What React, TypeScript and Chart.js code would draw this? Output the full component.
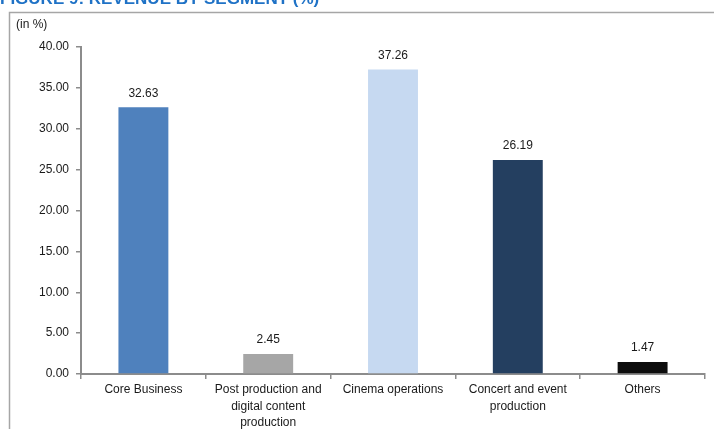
import React, { useEffect, useRef } from "react";
import { Chart, registerables } from "chart.js";

Chart.register(...registerables);

const categories: (string | string[])[] = [
  "Core Business",
  ["Post production and", "digital content", "production"],
  "Cinema operations",
  ["Concert and event", "production"],
  "Others",
];
const values: number[] = [32.63, 2.45, 37.26, 26.19, 1.47];
const barColors: string[] = ["#4f81bd", "#a6a6a6", "#c6d9f1", "#243f60", "#0d0d0d"];
const yTicks: number[] = [0, 5, 10, 15, 20, 25, 30, 35, 40];
const titleText = "FIGURE 9: REVENUE BY SEGMENT (%)";
const unitText = "(in %)";

const FONT = "'Liberation Sans', Arial, sans-serif";

const decorPlugin = {
  id: "decor",
  beforeDraw(chart: any) {
    const ctx = chart.ctx;
    ctx.save();
    ctx.fillStyle = "#ffffff";
    ctx.fillRect(0, 0, chart.width, chart.height);
    // title (cut off at top)
    ctx.fillStyle = "#1f72c6";
    ctx.font = `bold 17px ${FONT}`;
    ctx.textBaseline = "alphabetic";
    ctx.textAlign = "left";
    ctx.fillText(titleText, 0, 4);
    // frame
    ctx.strokeStyle = "#a6a6a6";
    ctx.lineWidth = 1.5;
    ctx.beginPath();
    ctx.moveTo(9.5, chart.height);
    ctx.lineTo(9.5, 12.5);
    ctx.lineTo(chart.width, 12.5);
    ctx.stroke();
    // unit label
    ctx.fillStyle = "#1a1a1a";
    ctx.font = `12px ${FONT}`;
    ctx.textBaseline = "middle";
    ctx.fillText(unitText, 16, 25);
    ctx.restore();
  },
  afterDatasetsDraw(chart: any) {
    const ctx = chart.ctx;
    const meta = chart.getDatasetMeta(0);
    ctx.save();
    ctx.fillStyle = "#1a1a1a";
    ctx.font = `12px ${FONT}`;
    ctx.textAlign = "center";
    ctx.textBaseline = "bottom";
    meta.data.forEach((bar: any, i: number) => {
      ctx.fillText(values[i].toFixed(2), bar.x, bar.y - 8);
    });
    ctx.restore();
  },
};

export default function App() {
  const ref = useRef<HTMLCanvasElement>(null);
  useEffect(() => {
    const chart = new Chart(ref.current!, {
      type: "bar",
      data: {
        labels: categories as any,
        datasets: [
          {
            data: values,
            backgroundColor: barColors,
            barPercentage: 0.4,
            categoryPercentage: 1,
          },
        ],
      },
      options: {
        animation: false,
        responsive: false,
        devicePixelRatio: 1,
        layout: { padding: { left: 0, right: 9, top: 47, bottom: 0 } },
        plugins: { legend: { display: false }, tooltip: { enabled: false }, title: { display: false } },
        scales: {
          x: {
            grid: { drawOnChartArea: false, drawTicks: true, tickLength: 5, color: "#8c8c8c", lineWidth: 1.5, offset: true },
            border: { display: true, color: "#8c8c8c", width: 2 },
            ticks: { color: "#1a1a1a", font: { family: FONT, size: 12, lineHeight: 1.35 }, padding: 3, maxRotation: 0, autoSkip: false },
            afterFit(scale: any) {
              scale.height = 55;
            },
          },
          y: {
            min: 0,
            max: 40,
            grid: { drawOnChartArea: false, drawTicks: true, tickLength: 5, color: "#8c8c8c", lineWidth: 1.5 },
            border: { display: true, color: "#8c8c8c", width: 2 },
            afterBuildTicks(scale: any) {
              scale.ticks = yTicks.map((v) => ({ value: v }));
            },
            ticks: {
              color: "#1a1a1a",
              font: { family: FONT, size: 12 },
              padding: 7,
              callback: (v: any) => Number(v).toFixed(2),
            },
            afterFit(scale: any) {
              scale.width = 81;
            },
          },
        },
      },
      plugins: [decorPlugin],
    });
    return () => chart.destroy();
  }, []);
  return (
    <div style={{ position: "fixed", left: 0, top: 0, width: 714, height: 429, overflow: "hidden", background: "#fff" }}>
      <canvas ref={ref} width={714} height={429} style={{ display: "block", width: 714, height: 429 }} />
    </div>
  );
}
